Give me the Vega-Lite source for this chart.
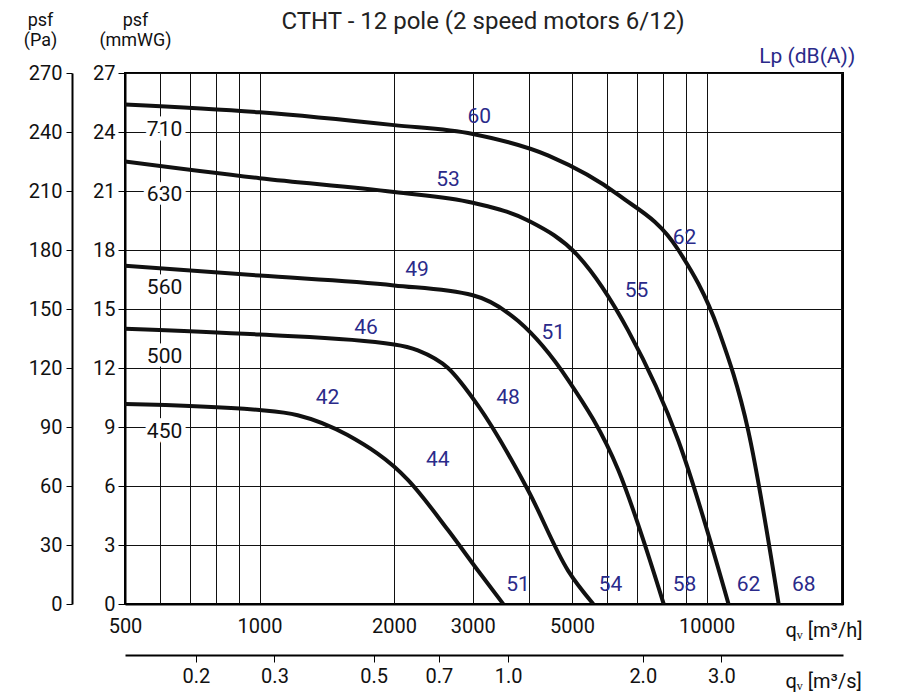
{
"$schema":"https://vega.github.io/schema/vega-lite/v6.json",
"width":718,"height":531,
"autosize":{"type":"none"},
"padding":{"left":125,"top":73,"right":57,"bottom":89},
"background":"white",
"config":{"font":"Roboto","view":{"stroke":"black","strokeWidth":2}},
"datasets":{
"curves":[
{"s":"710","q":500,"p":254},{"s":"710","q":1000,"p":250},{"s":"710","q":2000,"p":243.5},{"s":"710","q":3000,"p":239},{"s":"710","q":4430,"p":228},{"s":"710","q":6350,"p":208},{"s":"710","q":8650,"p":180},{"s":"710","q":10650,"p":139},{"s":"710","q":12400,"p":88},{"s":"710","q":14500,"p":0},
{"s":"630","q":500,"p":225},{"s":"630","q":1000,"p":216.5},{"s":"630","q":2000,"p":209.5},{"s":"630","q":3000,"p":204},{"s":"630","q":3985,"p":195},{"s":"630","q":5160,"p":177},{"s":"630","q":6680,"p":139},{"s":"630","q":8650,"p":83},{"s":"630","q":11200,"p":0},
{"s":"560","q":500,"p":172},{"s":"560","q":1000,"p":167},{"s":"560","q":2000,"p":162},{"s":"560","q":3000,"p":157},{"s":"560","q":3785,"p":144},{"s":"560","q":4900,"p":114},{"s":"560","q":6350,"p":68},{"s":"560","q":8020,"p":0},
{"s":"500","q":500,"p":140},{"s":"500","q":1000,"p":137},{"s":"500","q":2000,"p":132},{"s":"500","q":2260,"p":129},{"s":"500","q":2640,"p":120},{"s":"500","q":3080,"p":101},{"s":"500","q":3985,"p":58},{"s":"500","q":4900,"p":17},{"s":"500","q":5580,"p":0},
{"s":"450","q":500,"p":101.7},{"s":"450","q":1000,"p":98.6},{"s":"450","q":1217,"p":96},{"s":"450","q":1570,"p":86},{"s":"450","q":2150,"p":63},{"s":"450","q":2640,"p":37.6},{"s":"450","q":3080,"p":17},{"s":"450","q":3510,"p":0}
],
"lp":[
{"t":"60","q":3100,"p":247.6},{"t":"53","q":2640,"p":215.6},{"t":"49","q":2250,"p":169.8},{"t":"46","q":1730,"p":140.3},{"t":"42","q":1420,"p":104.7},
{"t":"62","q":8930,"p":186},{"t":"55","q":6970,"p":159},{"t":"51","q":4540,"p":137.8},{"t":"48","q":3595,"p":105},{"t":"44","q":2505,"p":73},
{"t":"51","q":3785,"p":9.7},{"t":"54","q":6100,"p":9.7},{"t":"58","q":8930,"p":9.7},{"t":"62","q":12420,"p":9.7},{"t":"68","q":16500,"p":9.7},
{"t":"Lp (dB(A))","q":16800,"p":278}
],
"title":[{"t":"CTHT - 12 pole (2 speed motors 6/12)","q":3162,"p":296}],
"sizes":[
{"t":"710","q":613,"p":241},{"t":"630","q":613,"p":208},{"t":"560","q":613,"p":160.6},{"t":"500","q":613,"p":125.6},{"t":"450","q":613,"p":87.4}
]
},
"layer":[
{"data":{"name":"curves"},
 "mark":{"type":"line","interpolate":"monotone","strokeWidth":4,"color":"#111","clip":true},
 "encoding":{
  "x":{"field":"q","type":"quantitative","scale":{"type":"log","domain":[500,20200],"nice":false},
   "axis":{"values":[500,600,700,800,900,1000,2000,3000,4000,5000,6000,7000,8000,9000,10000,20000],"labelExpr":"indexof([500,1000,2000,3000,5000,10000],datum.value)>=0?datum.value:''","grid":true,"gridColor":"#111","gridWidth":1,"domainColor":"black","domainWidth":2,"tickColor":"black","tickSize":0,"labelFontSize":20,"labelColor":"#111","labelPadding":12,"labelFlush":false,"title":"qᵥ [m³/h]","titleFontSize":20,"titleFontWeight":"normal","titleX":660,"titleY":16,"titleAlign":"left","titleColor":"#111"}},
  "y":{"field":"p","type":"quantitative","scale":{"domain":[0,270],"nice":false},
   "axis":{"values":[0,30,60,90,120,150,180,210,240,270],"offset":53,"grid":true,"gridColor":"#111","gridWidth":1,"domainColor":"black","domainWidth":2,"tickColor":"black","tickSize":6,"labelFontSize":20,"labelColor":"#111","labelPadding":4,"title":["psf","(Pa)"],"titleAngle":0,"titleFontSize":18,"titleFontWeight":"normal","titleX":-32,"titleY":-62,"titleBaseline":"top","titleAlign":"center","titleColor":"#111","titleLineHeight":20}},
  "detail":{"field":"s"}}},
{"data":{"name":"lp"},
 "mark":{"type":"text","fontSize":21,"color":"#2a2a8a"},
 "encoding":{"x":{"field":"q","type":"quantitative","axis":null},"y":{"field":"p","type":"quantitative","axis":null},"text":{"field":"t"}}},
{"data":{"name":"title"},
 "mark":{"type":"text","fontSize":24,"color":"#222"},
 "encoding":{"x":{"field":"q","type":"quantitative","axis":null},"y":{"field":"p","type":"quantitative","axis":null},"text":{"field":"t"}}},
{"data":{"name":"sizes"},
 "mark":{"type":"text","fontSize":21,"color":"white","stroke":"white","strokeWidth":9},
 "encoding":{"x":{"field":"q","type":"quantitative","axis":null},"y":{"field":"p","type":"quantitative","axis":null},"text":{"field":"t"}}},
{"data":{"name":"sizes"},
 "mark":{"type":"text","fontSize":21,"color":"#111"},
 "encoding":{
  "x":{"field":"q","type":"quantitative",
   "axis":{"orient":"bottom","offset":51,"values":[720,1080,1800,2520,3600,7200,10800],"labelExpr":"format(datum.value/3600,'.1f')","grid":false,"domainColor":"black","domainWidth":2,"tickColor":"black","tickSize":7,"labelFontSize":20,"labelColor":"#111","labelPadding":4,"title":"qᵥ [m³/s]","titleFontSize":20,"titleFontWeight":"normal","titleX":660,"titleY":16,"titleAlign":"left","titleColor":"#111"}},
  "y":{"field":"p","type":"quantitative",
   "axis":{"orient":"left","offset":0,"values":[0,30,60,90,120,150,180,210,240,270],"labelExpr":"datum.value/10","grid":false,"domainColor":"black","domainWidth":2,"tickColor":"black","tickSize":7,"labelFontSize":20,"labelColor":"#111","labelPadding":3,"title":["psf","(mmWG)"],"titleAngle":0,"titleFontSize":18,"titleFontWeight":"normal","titleX":10,"titleY":-62,"titleBaseline":"top","titleAlign":"center","titleColor":"#111","titleLineHeight":20}},
  "text":{"field":"t"}}}
],
"resolve":{"axis":{"x":"independent","y":"independent"}}
}
